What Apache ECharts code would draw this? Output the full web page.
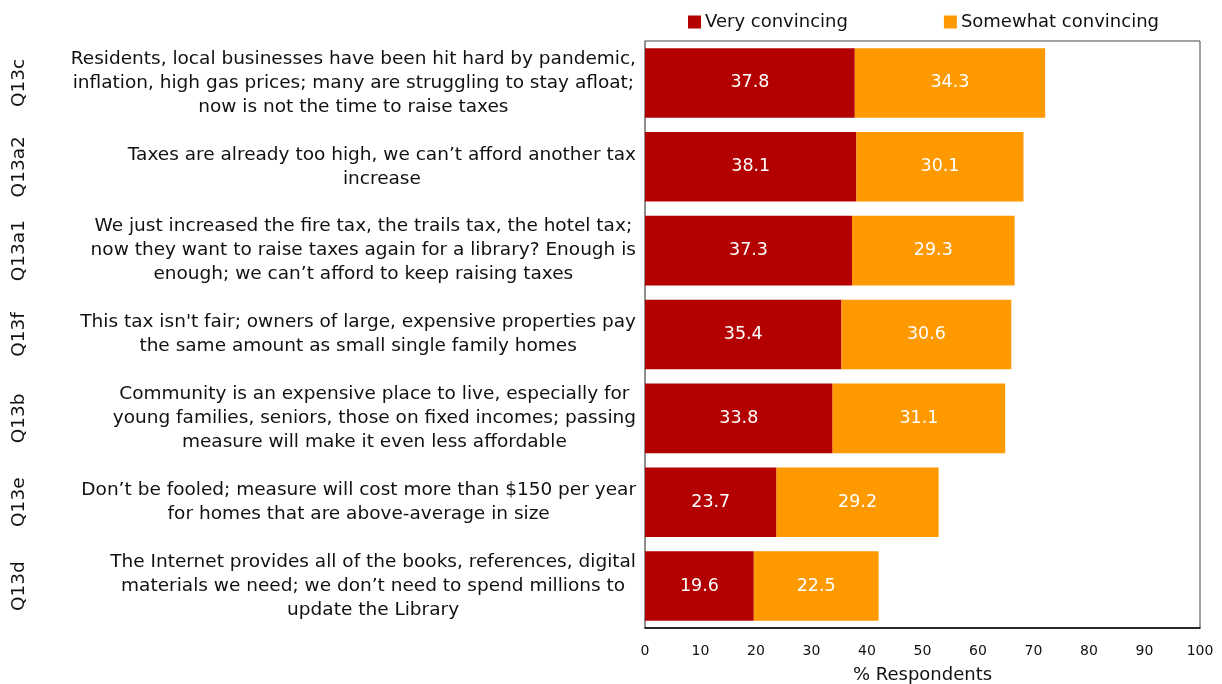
<!DOCTYPE html>
<html>
<head>
<meta charset="utf-8">
<style>
  html, body { margin: 0; padding: 0; background: #ffffff; }
  #chart { width: 1222px; height: 684px; }
</style>
<script src="https://cdn.jsdelivr.net/npm/echarts@6/dist/echarts.min.js"></script>
</head>
<body>
<div id="chart"></div>
<script>
// Question codes, top to bottom
const codes = ['Q13c', 'Q13a2', 'Q13a1', 'Q13f', 'Q13b', 'Q13e', 'Q13d'];

// Statement text for each question (line breaks as printed)
const statements = [
  'Residents, local businesses have been hit hard by pandemic,\ninflation, high gas prices; many are struggling to stay afloat;\nnow is not the time to raise taxes',
  'Taxes are already too high, we can\u2019t afford another tax\nincrease',
  'We just increased the fire tax, the trails tax, the hotel tax;\nnow they want to raise taxes again for a library? Enough is\nenough; we can\u2019t afford to keep raising taxes',
  'This tax isn\'t fair; owners of large, expensive properties pay\nthe same amount as small single family homes',
  'Community is an expensive place to live, especially for\nyoung families, seniors, those on fixed incomes; passing\nmeasure will make it even less affordable',
  'Don\u2019t be fooled; measure will cost more than $150 per year\nfor homes that are above-average in size',
  'The Internet provides all of the books, references, digital\nmaterials we need; we don\u2019t need to spend millions to\nupdate the Library'
];

const seriesNames = ['Very convincing', 'Somewhat convincing'];
const veryConvincing = [37.8, 38.1, 37.3, 35.4, 33.8, 23.7, 19.6];
const somewhatConvincing = [34.3, 30.1, 29.3, 30.6, 31.1, 29.2, 22.5];

const xTicks = [0, 10, 20, 30, 40, 50, 60, 70, 80, 90, 100];
const xAxisTitle = '% Respondents';

const FONT = 'DejaVu Sans';
const RED = '#B30000';
const ORANGE = '#FF9900';

const chart = echarts.init(document.getElementById('chart'), null, { renderer: 'canvas' });

const barLabel = {
  show: true,
  position: 'inside',
  color: '#ffffff',
  fontFamily: FONT,
  fontSize: 17.5,
  formatter: p => p.value.toFixed(1)
};

chart.setOption({
  animation: false,
  backgroundColor: '#ffffff',
  textStyle: { fontFamily: FONT },
  legend: {
    top: 8,
    left: 683,
    itemWidth: 13,
    itemHeight: 13,
    itemGap: 96,
    icon: 'rect',
    textStyle: { fontFamily: FONT, fontSize: 18, color: '#111', padding: [0, 0, 0, -1] },
    data: seriesNames
  },
  grid: {
    left: 645,
    right: 22,
    top: 41,
    bottom: 56,
    outerBoundsMode: 'none',
    containLabel: false,
    show: true,
    borderColor: '#444',
    borderWidth: 1,
    backgroundColor: 'transparent'
  },
  xAxis: {
    type: 'value',
    min: xTicks[0],
    max: xTicks[xTicks.length - 1],
    interval: 10,
    name: xAxisTitle,
    nameLocation: 'middle',
    nameGap: 38,
    nameTextStyle: { fontFamily: FONT, fontSize: 18, color: '#111' },
    axisLine: { show: true, lineStyle: { color: '#000', width: 1.5 } },
    axisTick: { show: false },
    splitLine: { show: false },
    axisLabel: { fontFamily: FONT, fontSize: 14, color: '#111', margin: 16 }
  },
  yAxis: [
    {
      type: 'category',
      data: statements,
      inverse: true,
      axisLine: { show: true, lineStyle: { color: '#888', width: 1.5 } },
      axisTick: { show: false },
      splitLine: { show: false },
      axisLabel: {
        margin: 9,
        align: 'right',
        interval: 0,
        formatter: v => '{c|' + v + '}',
        rich: {
          c: { align: 'center', fontFamily: FONT, fontSize: 18.5, lineHeight: 24, color: '#111' }
        }
      }
    },
    {
      type: 'category',
      data: codes,
      inverse: true,
      position: 'left',
      offset: 616,
      axisLine: { show: false },
      axisTick: { show: false },
      splitLine: { show: false },
      axisLabel: {
        rotate: 90,
        margin: 0,
        interval: 0,
        fontFamily: FONT,
        fontSize: 18.5,
        color: '#111'
      }
    }
  ],
  series: [
    {
      name: seriesNames[0],
      type: 'bar',
      stack: 'total',
      barCategoryGap: '17%',
      itemStyle: { color: RED },
      label: barLabel,
      data: veryConvincing
    },
    {
      name: seriesNames[1],
      type: 'bar',
      stack: 'total',
      barCategoryGap: '17%',
      itemStyle: { color: ORANGE },
      label: barLabel,
      data: somewhatConvincing
    }
  ]
});
</script>
</body>
</html>
